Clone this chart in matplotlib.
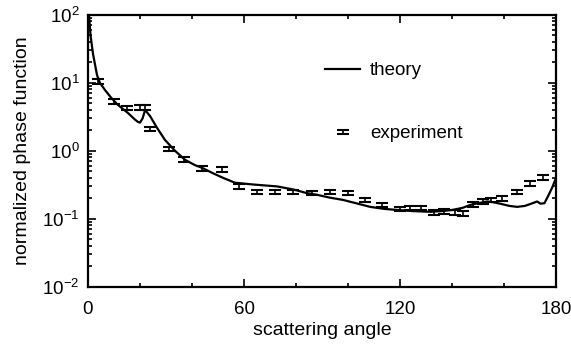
import matplotlib
matplotlib.use('Agg')
import matplotlib.pyplot as plt
import numpy as np
from matplotlib import rcParams
from matplotlib.ticker import LogLocator, MultipleLocator, NullFormatter
from matplotlib.legend_handler import HandlerErrorbar

rcParams['font.family'] = ['Liberation Sans', 'DejaVu Sans']
rcParams['font.size'] = 13
rcParams['mathtext.fontset'] = 'custom'
rcParams['mathtext.rm'] = 'Liberation Sans'
rcParams['mathtext.default'] = 'regular'

# theory curve
theory_angle = [0.0, 0.4, 1.0, 2.0, 3.5, 4.6, 6.5, 9.0, 11.5, 15.4, 18.0, 19.2, 20.0,
                21.0, 22.0, 24.0, 26.5, 29.6, 33.5, 37.3, 41.0, 44.0, 48.0, 52.0,
                56.5, 60.0, 63.5, 68.0, 72.7, 79.0, 84.0, 88.0, 93.0, 98.0, 103.0,
                108.5, 114.0, 119.0, 125.0, 131.5, 136.0, 140.0, 144.0, 147.0,
                150.0, 153.5, 156.0, 158.5, 162.0, 165.0, 168.0, 170.0, 172.7,
                174.0, 175.5, 177.0, 178.5, 179.6, 180.0]
theory_value = [200.0, 100.0, 50.0, 26.0, 13.0, 10.0, 7.9, 6.0, 4.75, 3.6, 2.9, 2.67, 2.6,
                3.0, 4.0, 3.2, 2.2, 1.45, 1.0, 0.74, 0.62, 0.56, 0.47, 0.40,
                0.34, 0.33, 0.32, 0.31, 0.30, 0.27, 0.24, 0.226, 0.205, 0.19, 0.17,
                0.15, 0.14, 0.135, 0.13, 0.127, 0.13, 0.135, 0.145, 0.16,
                0.17, 0.18, 0.175, 0.167, 0.155, 0.15, 0.155, 0.165, 0.18,
                0.167, 0.17, 0.22, 0.29, 0.37, 0.40]

# experimental points
exp_angle = [4.0, 10.0, 15.0, 20.0, 22.0, 24.0, 31.0, 37.0, 44.0, 51.5, 58.0, 65.0,
             72.0, 79.0, 86.0, 93.0, 100.0, 106.5, 113.0, 120.0, 124.0, 128.0,
             133.0, 137.0, 141.0, 144.0, 148.0, 152.0, 155.0, 159.0, 165.0,
             170.0, 175.0]
exp_value = [10.5, 5.3, 4.3, 4.4, 4.4, 2.1, 1.07, 0.74, 0.55, 0.54, 0.30, 0.25,
             0.25, 0.25, 0.24, 0.25, 0.24, 0.19, 0.16, 0.14, 0.145, 0.145,
             0.125, 0.13, 0.125, 0.12, 0.165, 0.18, 0.19, 0.20, 0.25,
             0.33, 0.41]
exp_relerr = 0.08

fig = plt.figure(figsize=(5.71, 3.46), dpi=100)
ax = fig.add_axes([0.154, 0.171, 0.82, 0.786])

ax.plot(theory_angle, theory_value, color='black', lw=1.6, label='theory')
ev = np.array(exp_value)
eb = ax.errorbar(exp_angle, exp_value, yerr=ev * exp_relerr, fmt='none', ecolor='black',
                 elinewidth=1.2, capsize=4.5, capthick=1.5, label='experiment')

ax.set_yscale('log')
ax.set_xlim(0, 180)
ax.set_ylim(1e-2, 1e2)
ax.set_xticks([0, 60, 120, 180])
ax.xaxis.set_minor_locator(MultipleLocator(20))
ax.yaxis.set_major_locator(LogLocator(base=10, numticks=10))
ax.yaxis.set_minor_locator(LogLocator(base=10, subs=np.arange(2, 10), numticks=10))
ax.yaxis.set_minor_formatter(NullFormatter())
ax.tick_params(which='both', direction='in', top=True, right=True, labelsize=13.5, width=1.2)
ax.tick_params(which='major', length=6)
ax.tick_params(which='minor', length=3)
ax.tick_params(axis='x', pad=10)
ax.tick_params(axis='y', pad=6)
for s in ax.spines.values():
    s.set_linewidth(1.6)

ax.set_xlabel('scattering angle', fontsize=14, labelpad=3)
ax.set_ylabel('normalized phase function', fontsize=14, labelpad=8)

ax.legend(loc='upper left', bbox_to_anchor=(0.47, 0.888), frameon=False, fontsize=13.5,
          labelspacing=2.45, handlelength=1.9, handletextpad=0.5,
          handler_map={type(eb): HandlerErrorbar(yerr_size=0.12)})

fig.savefig('out.png', dpi=100)
